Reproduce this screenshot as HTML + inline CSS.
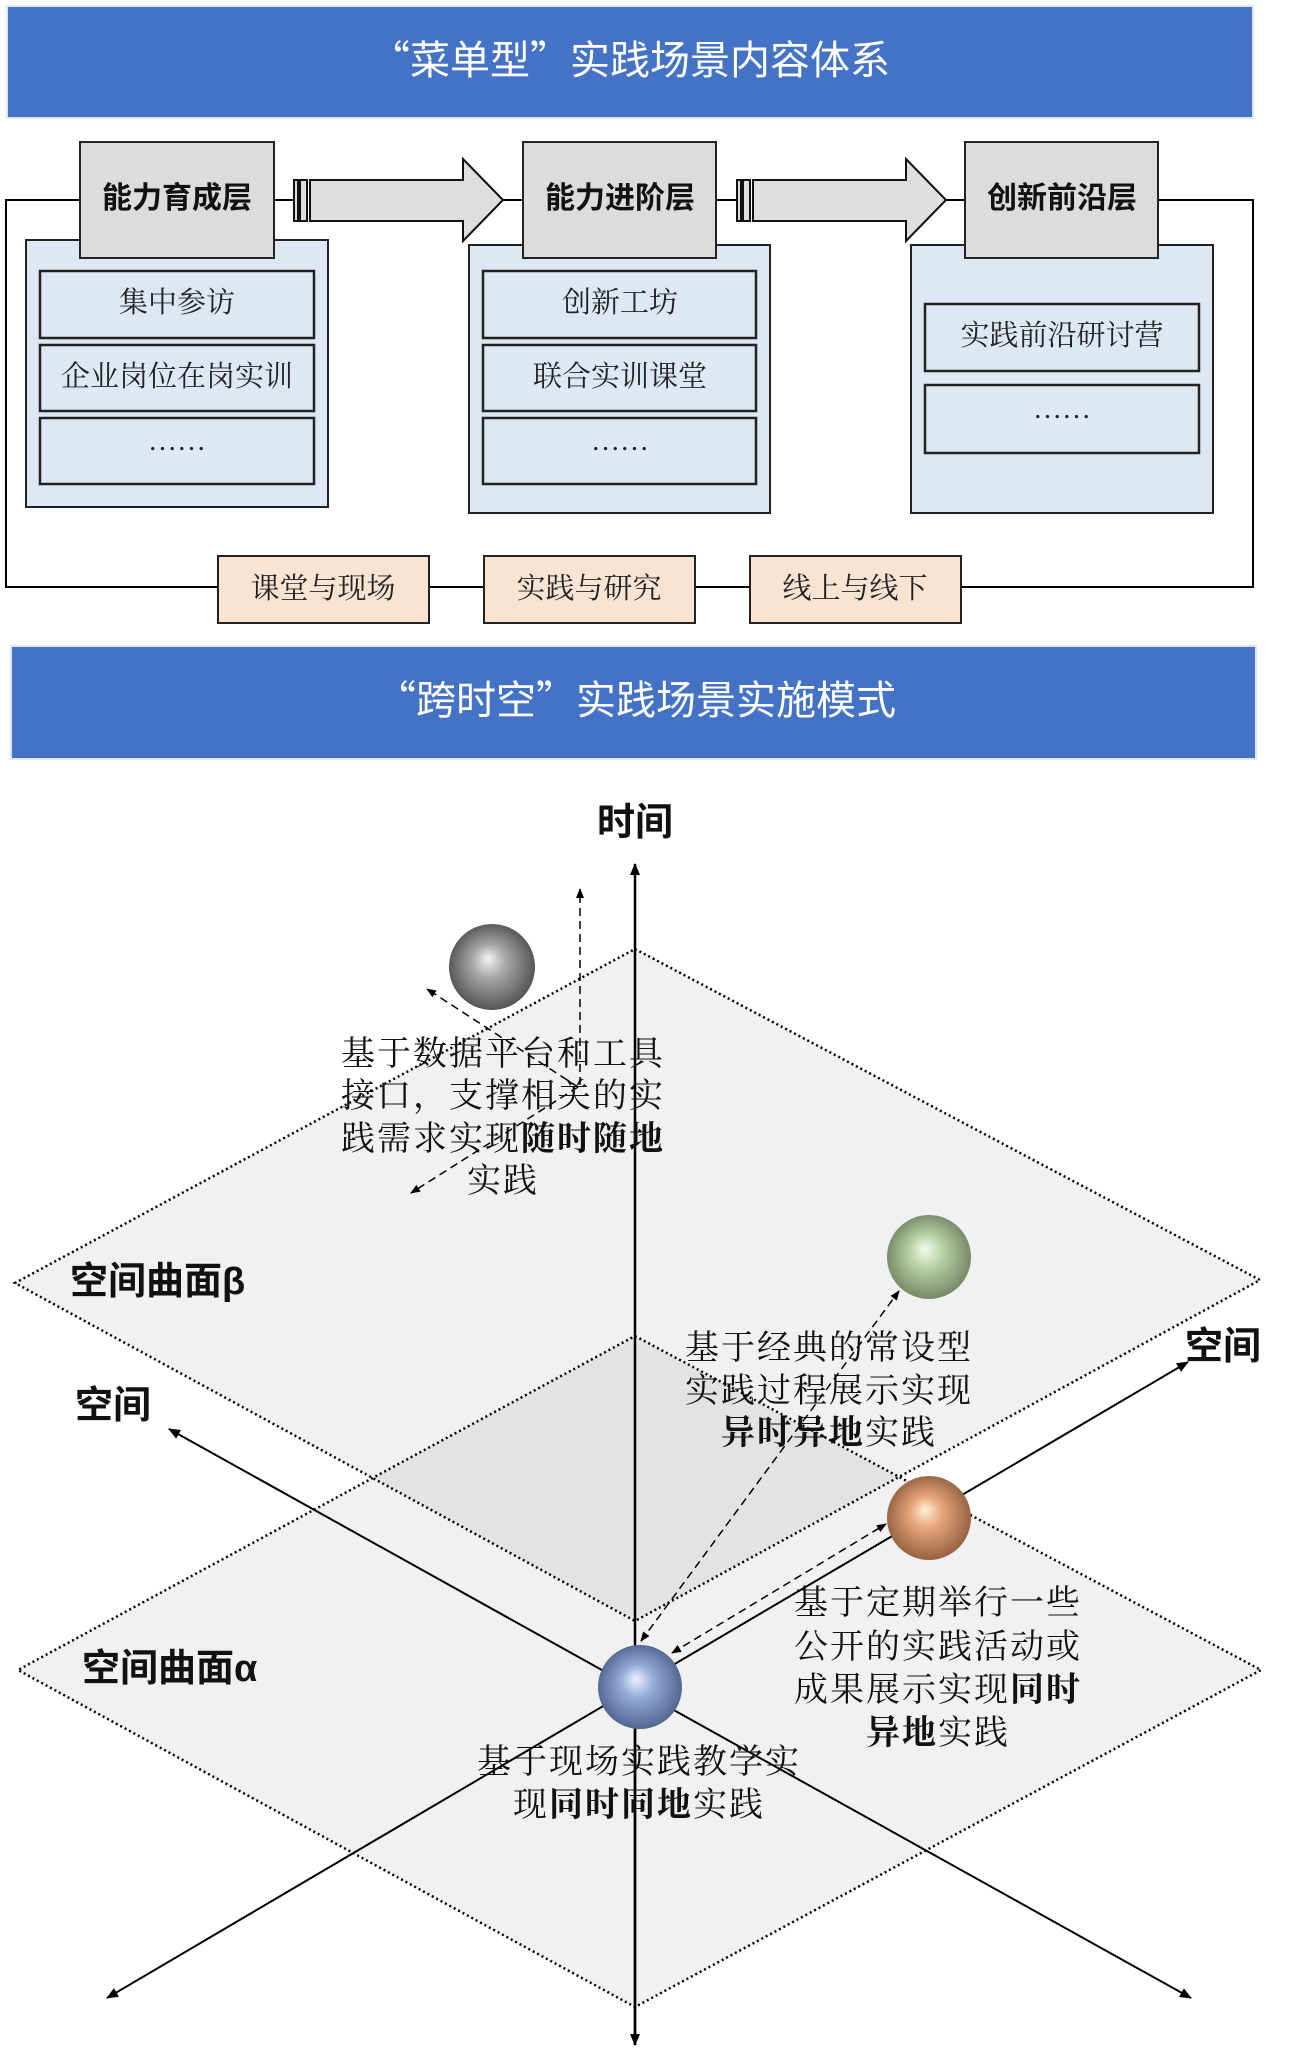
<!DOCTYPE html>
<html><head><meta charset="utf-8"><style>
html,body{margin:0;padding:0;background:#fff;}
svg{display:block;}
.s{font-family:"Liberation Sans","Noto Sans CJK SC",sans-serif;}
.h{font-family:"Noto Sans CJK SC",sans-serif;}
.r{font-family:"Liberation Serif","Noto Serif CJK SC",serif;}
</style></head><body>
<svg width="1292" height="2057" viewBox="0 0 1292 2057" xmlns="http://www.w3.org/2000/svg">
<defs>
<radialGradient id="gGray" cx="0.5" cy="0.5" r="0.55" fx="0.45" fy="0.4"><stop offset="0" stop-color="#f4f4f4"/><stop offset="0.35" stop-color="#a8a8a8"/><stop offset="1" stop-color="#4a4a4a"/></radialGradient>
<radialGradient id="gGreen" cx="0.5" cy="0.5" r="0.55" fx="0.45" fy="0.4"><stop offset="0" stop-color="#f4fbef"/><stop offset="0.35" stop-color="#b9d3a6"/><stop offset="1" stop-color="#6d8060"/></radialGradient>
<radialGradient id="gOrange" cx="0.5" cy="0.5" r="0.55" fx="0.45" fy="0.4"><stop offset="0" stop-color="#fff0d8"/><stop offset="0.35" stop-color="#e7a57a"/><stop offset="1" stop-color="#8b5a3a"/></radialGradient>
<radialGradient id="gBlue" cx="0.5" cy="0.5" r="0.55" fx="0.45" fy="0.4"><stop offset="0" stop-color="#eef3ff"/><stop offset="0.35" stop-color="#94acd8"/><stop offset="1" stop-color="#4a5d87"/></radialGradient>
<marker id="ah" markerWidth="12" markerHeight="10" refX="11" refY="5" orient="auto" markerUnits="userSpaceOnUse"><path d="M0,0 L12,5 L0,10 z" fill="#000"/></marker>
<marker id="ahs" markerWidth="10" markerHeight="8" refX="9" refY="4" orient="auto-start-reverse" markerUnits="userSpaceOnUse"><path d="M0,0 L10,4 L0,8 z" fill="#000"/></marker>
<marker id="ahb" markerWidth="12" markerHeight="10" refX="11" refY="5" orient="auto-start-reverse" markerUnits="userSpaceOnUse"><path d="M0,0 L12,5 L0,10 z" fill="#000"/></marker>
</defs>

<rect x="7" y="6" width="1246" height="112" fill="#4472c4" stroke="#dfe6f3" stroke-width="2"/>
<text x="630" y="74" class="h" font-size="40" fill="#fff" text-anchor="middle">“菜单型”实践场景内容体系</text>

<polyline points="80,200 6,200 6,587 1253,587 1253,200 1158,200" fill="none" stroke="#000" stroke-width="2"/>
<line x1="273" y1="200" x2="294" y2="200" stroke="#000" stroke-width="2"/>
<line x1="503" y1="200" x2="523" y2="200" stroke="#000" stroke-width="2"/>
<line x1="716" y1="200" x2="737" y2="200" stroke="#000" stroke-width="2"/>
<line x1="946" y1="200" x2="965" y2="200" stroke="#000" stroke-width="2"/>

<rect x="26" y="240" width="302" height="267" fill="#dee8f4" stroke="#222" stroke-width="2"/>
<rect x="469" y="245" width="301" height="268" fill="#dee8f4" stroke="#222" stroke-width="2"/>
<rect x="911" y="245" width="302" height="268" fill="#dee8f4" stroke="#222" stroke-width="2"/>

<rect x="80" y="142" width="194" height="116" fill="#dcdcdc" stroke="#222" stroke-width="2"/>
<rect x="523" y="142" width="193" height="116" fill="#dcdcdc" stroke="#222" stroke-width="2"/>
<rect x="965" y="142" width="193" height="116" fill="#dcdcdc" stroke="#222" stroke-width="2"/>
<g class="s" font-size="30" font-weight="bold" text-anchor="middle" fill="#111">
<text x="177" y="208">能力育成层</text>
<text x="620" y="208">能力进阶层</text>
<text x="1062" y="208">创新前沿层</text>
</g>

<g fill="#dee8f4" stroke="#222" stroke-width="2.5">
<rect x="40" y="271" width="274" height="67"/><rect x="40" y="345" width="274" height="66"/><rect x="40" y="418" width="274" height="66"/>
<rect x="483" y="271" width="273" height="67"/><rect x="483" y="345" width="273" height="66"/><rect x="483" y="418" width="273" height="66"/>
<rect x="925" y="304" width="274" height="67"/><rect x="925" y="385" width="274" height="68"/>
</g>
<g class="r" font-size="29" text-anchor="middle" fill="#222">
<text x="177" y="312">集中参访</text>
<text x="177" y="386">企业岗位在岗实训</text>
<text x="177" y="450">……</text>
<text x="620" y="312">创新工坊</text>
<text x="620" y="386">联合实训课堂</text>
<text x="620" y="450">……</text>
<text x="1062" y="345">实践前沿研讨营</text>
<text x="1062" y="418">……</text>
</g>

<g fill="#dedede" stroke="#111" stroke-width="2">
<rect x="294" y="180" width="4" height="41"/><rect x="300" y="180" width="7" height="41"/>
<polygon points="310,180 463,180 463,159 503,200 463,241 463,221 310,221"/>
<rect x="737" y="180" width="4" height="41"/><rect x="743" y="180" width="7" height="41"/>
<polygon points="753,180 906,180 906,159 946,200 906,241 906,221 753,221"/>
</g>

<g fill="#f9e3d3" stroke="#222" stroke-width="2">
<rect x="218" y="556" width="211" height="67"/>
<rect x="484" y="556" width="211" height="67"/>
<rect x="750" y="556" width="211" height="67"/>
</g>
<g class="r" font-size="29" text-anchor="middle" fill="#222">
<text x="323" y="598">课堂与现场</text>
<text x="589" y="598">实践与研究</text>
<text x="855" y="598">线上与线下</text>
</g>

<rect x="11" y="646" width="1245" height="113" fill="#4472c4" stroke="#dfe6f3" stroke-width="2"/>
<text x="636" y="714" class="h" font-size="40" fill="#fff" text-anchor="middle">“跨时空”实践场景实施模式</text>

<polygon points="635,949 1260,1280 635,1621 15,1283" fill="#f1f1f1" stroke="#000" stroke-width="2.5" stroke-dasharray="2,3"/>
<polygon points="635,1336 1261,1670 635,2007 18,1670" fill="#000" fill-opacity="0.055" stroke="#000" stroke-width="2.5" stroke-dasharray="2,3"/>

<line x1="635" y1="2045" x2="635" y2="864" stroke="#000" stroke-width="2.5" marker-end="url(#ah)"/>
<line x1="635" y1="1680" x2="635" y2="2045" stroke="#000" stroke-width="2.5" marker-end="url(#ah)"/>
<line x1="169" y1="1429" x2="1191" y2="1998" stroke="#000" stroke-width="2" marker-start="url(#ahb)" marker-end="url(#ahb)"/>
<line x1="107" y1="1998" x2="1188" y2="1362" stroke="#000" stroke-width="2" marker-start="url(#ahb)" marker-end="url(#ahb)"/>

<g stroke="#000" stroke-width="1.5" stroke-dasharray="8,5" fill="none">
<line x1="580" y1="1085" x2="580" y2="889" marker-end="url(#ahs)"/>
<line x1="578" y1="1087" x2="427" y2="989" marker-end="url(#ahs)"/>
<line x1="578" y1="1087" x2="411" y2="1193" marker-end="url(#ahs)"/>
<line x1="641" y1="1641" x2="899" y2="1291" marker-start="url(#ahs)" marker-end="url(#ahs)"/>
<line x1="672" y1="1653" x2="886" y2="1524" marker-start="url(#ahs)" marker-end="url(#ahs)"/>
</g>

<circle cx="492" cy="967" r="43" fill="url(#gGray)"/>
<circle cx="929" cy="1257" r="42" fill="url(#gGreen)"/>
<circle cx="929" cy="1518" r="42" fill="url(#gOrange)"/>
<circle cx="640" cy="1687" r="42" fill="url(#gBlue)"/>

<g class="s" font-weight="bold" fill="#111" font-size="38">
<text x="635" y="835" text-anchor="middle">时间</text>
<text x="70" y="1294">空间曲面β</text>
<text x="82" y="1681">空间曲面α</text>
<text x="75" y="1418">空间</text>
<text x="1185" y="1359">空间</text>
</g>
<g class="r" font-size="34" fill="#111" text-anchor="middle" letter-spacing="2">
<text x="503" y="1065">基于数据平台和工具</text>
<text x="503" y="1107">接口，支撑相关的实</text>
<text x="503" y="1150">践需求实现<tspan font-weight="bold">随时随地</tspan></text>
<text x="503" y="1192">实践</text>
<text x="829" y="1359">基于经典的常设型</text>
<text x="829" y="1402">实践过程展示实现</text>
<text x="829" y="1444"><tspan font-weight="bold">异时异地</tspan>实践</text>
<text x="938" y="1614">基于定期举行一些</text>
<text x="938" y="1658">公开的实践活动或</text>
<text x="938" y="1701">成果展示实现<tspan font-weight="bold">同时</tspan></text>
<text x="938" y="1744"><tspan font-weight="bold">异地</tspan>实践</text>
<text x="639" y="1773">基于现场实践教学实</text>
<text x="639" y="1816">现<tspan font-weight="bold">同时同地</tspan>实践</text>
</g>
</svg>
</body></html>
